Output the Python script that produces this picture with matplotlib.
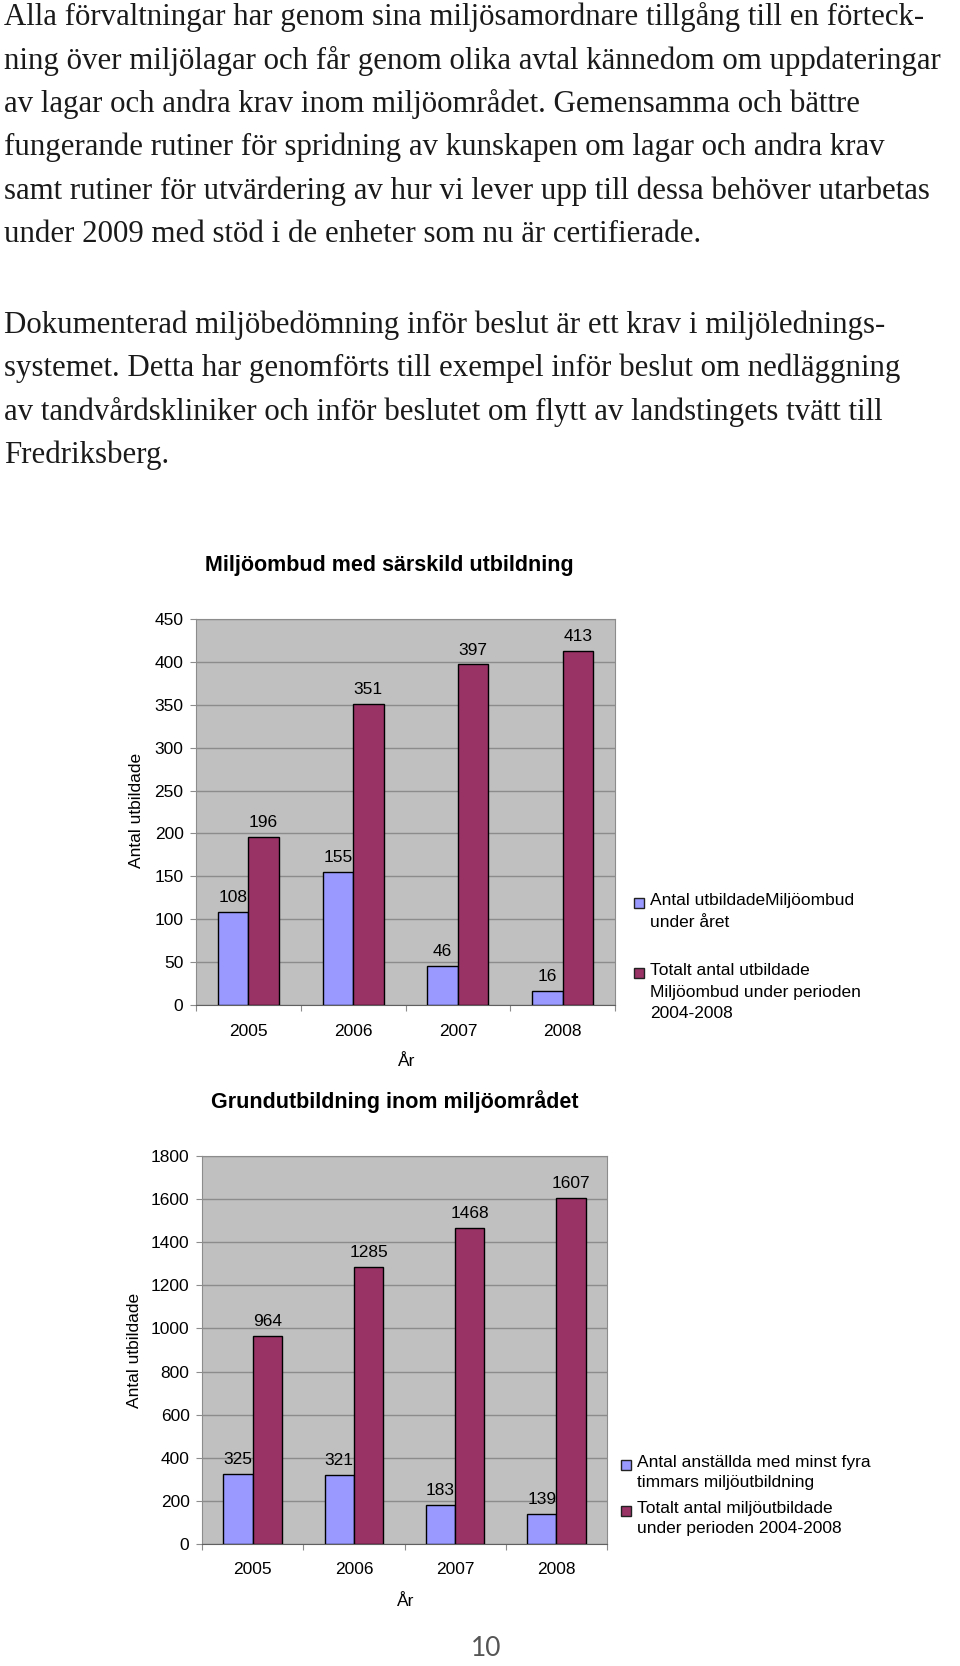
import numpy as np
import matplotlib
matplotlib.use("Agg")
from matplotlib import pyplot as plt
from matplotlib.patches import Rectangle

W, H = 960, 1666

years = ["2005", "2006", "2007", "2008"]

# chart 1: Miljöombud med särskild utbildning
ombud_year = [108, 155, 46, 16]
ombud_total = [196, 351, 397, 413]
ombud_legend = ["Antal utbildadeMiljöombud\nunder året",
				"Totalt antal utbildade\nMiljöombud under perioden\n2004-2008"]

# chart 2: Grundutbildning inom miljöområdet
grund_year = [325, 321, 183, 139]
grund_total = [964, 1285, 1468, 1607]
grund_legend = ["Antal anställda med minst fyra\ntimmars miljöutbildning",
				"Totalt antal miljöutbildade\nunder perioden 2004-2008"]

para1 = [
	"Alla förvaltningar har genom sina miljösamordnare tillgång till en förteck-",
	"ning över miljölagar och får genom olika avtal kännedom om uppdateringar",
	"av lagar och andra krav inom miljöområdet. Gemensamma och bättre",
	"fungerande rutiner för spridning av kunskapen om lagar och andra krav",
	"samt rutiner för utvärdering av hur vi lever upp till dessa behöver utarbetas",
	"under 2009 med stöd i de enheter som nu är certifierade.",
]
para2 = [
	"Dokumenterad miljöbedömning inför beslut är ett krav i miljölednings-",
	"systemet. Detta har genomförts till exempel inför beslut om nedläggning",
	"av tandvårdskliniker och inför beslutet om flytt av landstingets tvätt till",
	"Fredriksberg.",
]

BLUE = "#9999FF"
RED = "#993366"
PLOT_BG = "#C0C0C0"
GRID = "#8C8C8C"
FS = 12.5

plt.rcParams["font.family"] = ["Liberation Sans", "DejaVu Sans"]


def px_rect(l, t, r, b):
	return [l / W, 1 - b / H, (r - l) / W, (b - t) / H]


def fig_xy(x, y):
	return x / W, 1 - y / H


def bar_chart(fig, rect, title, title_xy, v_year, v_total, ymax, ystep,
			  ylab_xy, xlab_xy, tick_pad):
	ax = fig.add_axes(px_rect(*rect))
	x = np.arange(len(years))
	w = 0.29
	b1 = ax.bar(x - w / 2, v_year, w, color=BLUE, edgecolor="black", lw=1, zorder=3)
	b2 = ax.bar(x + w / 2, v_total, w, color=RED, edgecolor="black", lw=1, zorder=3)
	ax.bar_label(b1, padding=5, fontsize=FS)
	ax.bar_label(b2, padding=5, fontsize=FS)

	ax.set_facecolor(PLOT_BG)
	ax.set_xlim(-0.5, len(years) - 0.5)
	ax.set_ylim(0, ymax)
	ax.set_yticks(np.arange(0, ymax + 1, ystep))
	ax.yaxis.grid(True, color=GRID, lw=1, zorder=1)
	ax.set_axisbelow(True)
	ax.tick_params(axis="y", labelsize=FS, length=4, width=0.8, color=GRID,
				   direction="out", pad=5)

	ax.set_xticks(x)
	ax.set_xticklabels(years)
	ax.set_xticks(np.arange(-0.5, len(years)), minor=True)
	ax.tick_params(axis="x", which="major", length=0, labelsize=FS, pad=tick_pad)
	ax.tick_params(axis="x", which="minor", length=4, color=GRID, width=0.8)

	for s in ["left", "top", "right"]:
		ax.spines[s].set_color(GRID)
	ax.spines["bottom"].set_color("#606060")

	ax.set_ylabel("Antal utbildade", fontsize=FS)
	ax.yaxis.set_label_coords(*ylab_xy)
	ax.set_xlabel("År", fontsize=FS)
	ax.xaxis.set_label_coords(*xlab_xy)

	fig.text(*fig_xy(*title_xy), title, fontsize=15.5, fontweight="bold",
			 ha="center", va="center")
	return ax


def side_legend(fig, x, entries, spacing):
	# entries: (y of first text line, colour, label)
	for y, col, lab in entries:
		fig.patches.append(Rectangle(fig_xy(x, y + 5), 10 / W, 10 / H,
									 transform=fig.transFigure,
									 facecolor=col, edgecolor="#222222", lw=1))
		fig.text(*fig_xy(x + 16, y - 10), lab, fontsize=FS, ha="left", va="top",
				 linespacing=spacing)


fig = plt.figure(figsize=(W / 100, H / 100), dpi=100)

# body text
for i, line in enumerate(para1):
	fig.text(*fig_xy(4, 25 + i * 43.5), line, fontsize=22.2, color="#1a1a1a",
			 family="Liberation Serif", ha="left", va="baseline")
for i, line in enumerate(para2):
	fig.text(*fig_xy(4, 333 + i * 43.4), line, fontsize=22.2, color="#1a1a1a",
			 family="Liberation Serif", ha="left", va="baseline")

bar_chart(fig, (196, 619, 615, 1005), "Miljöombud med särskild utbildning",
		  (389, 565), ombud_year, ombud_total, 450, 50,
		  (-0.123, 0.505), (0.502, -0.127), 13.5)
side_legend(fig, 634, [(903, BLUE, ombud_legend[0]),
					   (973, RED, ombud_legend[1])], 1.55)

bar_chart(fig, (202, 1156, 607, 1544), "Grundutbildning inom miljöområdet",
		  (395, 1102), grund_year, grund_total, 1800, 200,
		  (-0.149, 0.5), (0.503, -0.128), 13)
side_legend(fig, 621, [(1465, BLUE, grund_legend[0]),
					   (1511, RED, grund_legend[1])], 1.38)

fig.text(*fig_xy(486, 1648), "10", fontsize=19, color="#555555",
		 family="Lato", ha="center", va="center")

plt.savefig("out.png", dpi=100)
plt.close()
